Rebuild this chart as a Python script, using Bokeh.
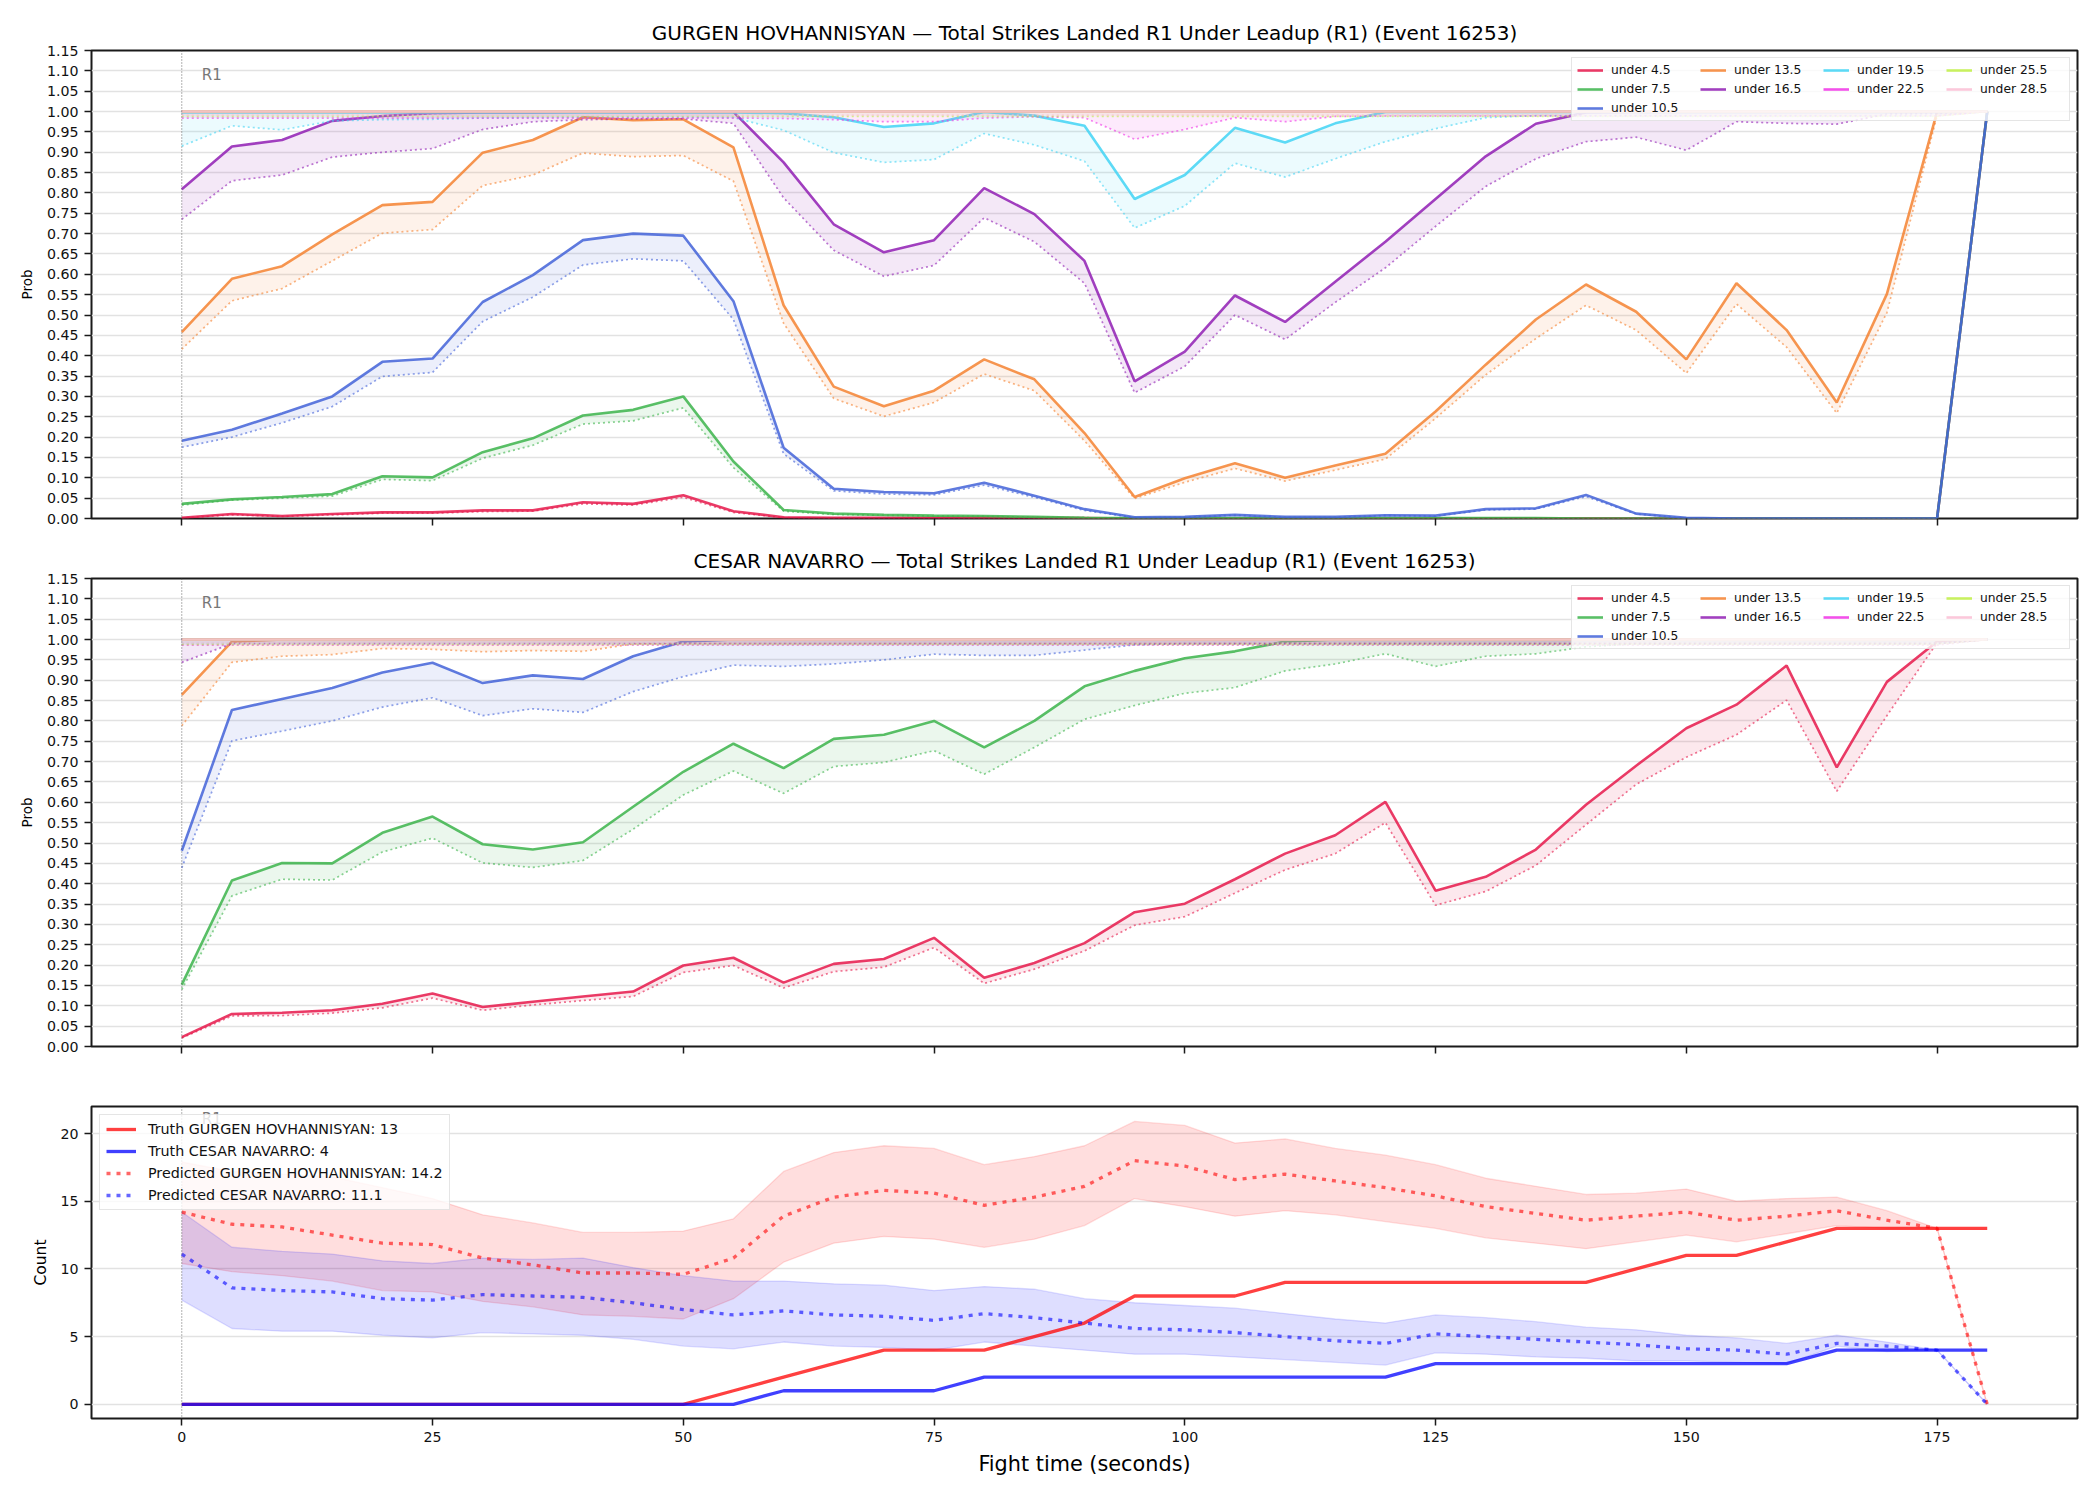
from bokeh.plotting import figure
from bokeh.models import (Range1d, FixedTicker, NumeralTickFormatter, Legend,
                          LegendItem, Span, Label, CustomLabelingPolicy)
from bokeh.layouts import column
from bokeh.embed import file_html
from bokeh.resources import INLINE

FONT = "DejaVu Sans"

# ---------------------------------------------------------------- data
times = [0, 5, 10, 15, 20, 25, 30, 35, 40, 45,
         50, 55, 60, 65, 70, 75, 80, 85, 90, 95,
         100, 105, 110, 115, 120, 125, 130, 135, 140, 145,
         150, 155, 160, 165, 170, 175, 180]

lines_labels = ["under 4.5", "under 7.5", "under 10.5", "under 13.5", "under 16.5",
                "under 19.5", "under 22.5", "under 25.5", "under 28.5"]
line_colors = ["#e6194b", "#3cb44b", "#4363d8", "#f58231", "#911eb4",
               "#42d4f4", "#f032e6", "#bfef45", "#fabed4"]

# GURGEN HOVHANNISYAN: live probability (solid) and baseline (dotted)
hov_u4_5_line = [0.002, 0.011, 0.006, 0.011, 0.015, 0.015, 0.020, 0.020, 0.040, 0.036,
                 0.057, 0.018, 0.003, 0.002, 0.002, 0.002, 0.002, 0.001, 0.001, 0.000,
                 0.000, 0.000, 0.000, 0.000, 0.000, 0.000, 0.000, 0.000, 0.000, 0.000,
                 0.000, 0.000, 0.000, 0.000, 0.000, 0.000, 1.000]
hov_u4_5_dot = [0.001, 0.009, 0.005, 0.009, 0.013, 0.013, 0.017, 0.018, 0.036, 0.033,
                0.052, 0.015, 0.002, 0.001, 0.001, 0.001, 0.001, 0.001, 0.001, 0.000,
                0.000, 0.000, 0.000, 0.000, 0.000, 0.000, 0.000, 0.000, 0.000, 0.000,
                0.000, 0.000, 0.000, 0.000, 0.000, 0.000, 1.000]
hov_u7_5_line = [0.036, 0.047, 0.053, 0.060, 0.104, 0.101, 0.163, 0.197, 0.253, 0.267,
                 0.300, 0.140, 0.021, 0.012, 0.009, 0.007, 0.006, 0.004, 0.002, 0.001,
                 0.001, 0.001, 0.001, 0.001, 0.001, 0.001, 0.001, 0.001, 0.000, 0.000,
                 0.000, 0.000, 0.000, 0.000, 0.000, 0.000, 1.000]
hov_u7_5_dot = [0.033, 0.045, 0.050, 0.055, 0.096, 0.093, 0.148, 0.180, 0.232, 0.240,
                0.272, 0.125, 0.018, 0.010, 0.008, 0.006, 0.005, 0.003, 0.002, 0.001,
                0.001, 0.001, 0.001, 0.001, 0.001, 0.001, 0.001, 0.001, 0.000, 0.000,
                0.000, 0.000, 0.000, 0.000, 0.000, 0.000, 1.000]
hov_u10_5_line = [0.191, 0.218, 0.258, 0.300, 0.385, 0.393, 0.532, 0.598, 0.684, 0.700,
                  0.695, 0.534, 0.174, 0.073, 0.065, 0.062, 0.088, 0.056, 0.023, 0.003,
                  0.004, 0.009, 0.004, 0.004, 0.008, 0.007, 0.023, 0.025, 0.058, 0.012,
                  0.002, 0.000, 0.000, 0.000, 0.000, 0.000, 1.000]
hov_u10_5_dot = [0.175, 0.200, 0.235, 0.275, 0.349, 0.359, 0.484, 0.544, 0.623, 0.638,
                 0.633, 0.489, 0.159, 0.068, 0.060, 0.058, 0.082, 0.052, 0.020, 0.002,
                 0.003, 0.008, 0.003, 0.003, 0.007, 0.006, 0.021, 0.023, 0.054, 0.011,
                 0.001, 0.000, 0.000, 0.000, 0.000, 0.000, 1.000]
hov_u13_5_line = [0.458, 0.589, 0.620, 0.698, 0.770, 0.778, 0.899, 0.930, 0.986, 0.979,
                  0.981, 0.912, 0.524, 0.324, 0.276, 0.314, 0.391, 0.342, 0.210, 0.053,
                  0.099, 0.136, 0.100, 0.130, 0.159, 0.263, 0.378, 0.489, 0.575, 0.508,
                  0.391, 0.578, 0.463, 0.285, 0.552, 0.999, 1.000]
hov_u13_5_dot = [0.416, 0.535, 0.565, 0.633, 0.701, 0.710, 0.818, 0.844, 0.898, 0.889,
                 0.892, 0.829, 0.480, 0.295, 0.251, 0.285, 0.355, 0.314, 0.191, 0.049,
                 0.089, 0.123, 0.092, 0.119, 0.146, 0.246, 0.353, 0.442, 0.524, 0.463,
                 0.357, 0.527, 0.421, 0.259, 0.506, 0.990, 1.000]
hov_u16_5_line = [0.809, 0.914, 0.930, 0.977, 0.989, 0.996, 0.998, 0.998, 0.999, 0.999,
                  0.999, 0.999, 0.875, 0.723, 0.654, 0.684, 0.812, 0.748, 0.633, 0.337,
                  0.410, 0.548, 0.483, 0.582, 0.680, 0.785, 0.890, 0.970, 0.998, 0.999,
                  0.999, 0.999, 0.999, 0.999, 0.999, 0.999, 1.000]
hov_u16_5_dot = [0.735, 0.830, 0.844, 0.888, 0.900, 0.909, 0.956, 0.975, 0.980, 0.982,
                 0.982, 0.971, 0.788, 0.659, 0.595, 0.622, 0.739, 0.680, 0.578, 0.309,
                 0.374, 0.500, 0.440, 0.531, 0.616, 0.718, 0.816, 0.884, 0.926, 0.937,
                 0.905, 0.975, 0.971, 0.969, 0.994, 0.995, 1.000]
hov_u19_5_line = [0.998, 0.998, 0.998, 0.998, 0.998, 0.998, 0.998, 0.998, 0.998, 0.998,
                  0.998, 0.998, 0.996, 0.986, 0.962, 0.971, 0.999, 0.990, 0.965, 0.785,
                  0.844, 0.960, 0.924, 0.971, 0.999, 0.999, 0.999, 0.999, 0.999, 0.999,
                  0.999, 0.999, 0.999, 0.999, 0.999, 0.999, 1.000]
hov_u19_5_dot = [0.915, 0.965, 0.955, 0.977, 0.980, 0.981, 0.984, 0.985, 0.986, 0.986,
                 0.986, 0.985, 0.954, 0.899, 0.875, 0.882, 0.946, 0.918, 0.878, 0.714,
                 0.768, 0.873, 0.839, 0.884, 0.926, 0.958, 0.985, 0.990, 0.990, 0.990,
                 0.990, 0.990, 0.990, 0.990, 0.990, 0.990, 1.000]
hov_u22_5_line = [1.000, 1.000, 1.000, 1.000, 1.000, 1.000, 1.000, 1.000, 1.000, 1.000,
                  1.000, 1.000, 1.000, 1.000, 1.000, 1.000, 1.000, 1.000, 1.000, 1.000,
                  1.000, 1.000, 1.000, 1.000, 1.000, 1.000, 1.000, 1.000, 1.000, 1.000,
                  1.000, 1.000, 1.000, 1.000, 1.000, 1.000, 1.000]
hov_u22_5_dot = [0.984, 0.984, 0.984, 0.984, 0.984, 0.984, 0.984, 0.984, 0.984, 0.984,
                 0.984, 0.984, 0.983, 0.980, 0.975, 0.975, 0.984, 0.987, 0.985, 0.932,
                 0.956, 0.985, 0.975, 0.988, 0.989, 0.989, 0.989, 0.989, 0.989, 0.989,
                 0.989, 0.989, 0.989, 0.989, 0.989, 0.989, 1.000]
hov_u25_5_line = [1.000, 1.000, 1.000, 1.000, 1.000, 1.000, 1.000, 1.000, 1.000, 1.000,
                  1.000, 1.000, 1.000, 1.000, 1.000, 1.000, 1.000, 1.000, 1.000, 1.000,
                  1.000, 1.000, 1.000, 1.000, 1.000, 1.000, 1.000, 1.000, 1.000, 1.000,
                  1.000, 1.000, 1.000, 1.000, 1.000, 1.000, 1.000]
hov_u25_5_dot = [0.988, 0.988, 0.988, 0.988, 0.988, 0.988, 0.988, 0.988, 0.988, 0.988,
                 0.988, 0.988, 0.988, 0.988, 0.988, 0.988, 0.988, 0.988, 0.988, 0.988,
                 0.988, 0.988, 0.988, 0.988, 0.988, 0.988, 0.988, 0.988, 0.988, 0.988,
                 0.988, 0.988, 0.988, 0.988, 0.988, 0.988, 1.000]
hov_u28_5_line = [1.000, 1.000, 1.000, 1.000, 1.000, 1.000, 1.000, 1.000, 1.000, 1.000,
                  1.000, 1.000, 1.000, 1.000, 1.000, 1.000, 1.000, 1.000, 1.000, 1.000,
                  1.000, 1.000, 1.000, 1.000, 1.000, 1.000, 1.000, 1.000, 1.000, 1.000,
                  1.000, 1.000, 1.000, 1.000, 1.000, 1.000, 1.000]
hov_u28_5_dot = [0.991, 0.991, 0.991, 0.991, 0.991, 0.991, 0.991, 0.991, 0.991, 0.991,
                 0.991, 0.991, 0.991, 0.991, 0.991, 0.991, 0.991, 0.991, 0.991, 0.991,
                 0.991, 0.991, 0.991, 0.991, 0.991, 0.991, 0.991, 0.991, 0.991, 0.991,
                 0.991, 0.991, 0.991, 0.991, 0.991, 0.991, 1.000]

# CESAR NAVARRO: live probability (solid) and baseline (dotted)
nav_u4_5_line = [0.023, 0.080, 0.083, 0.089, 0.105, 0.130, 0.097, 0.110, 0.123, 0.135,
                 0.199, 0.218, 0.157, 0.203, 0.215, 0.267, 0.169, 0.205, 0.254, 0.330,
                 0.351, 0.411, 0.474, 0.519, 0.601, 0.383, 0.417, 0.484, 0.594, 0.690,
                 0.782, 0.840, 0.936, 0.686, 0.896, 0.995, 1.000]
nav_u4_5_dot = [0.021, 0.075, 0.076, 0.082, 0.095, 0.119, 0.089, 0.102, 0.113, 0.123,
                0.182, 0.199, 0.144, 0.184, 0.195, 0.243, 0.155, 0.190, 0.235, 0.298,
                0.319, 0.377, 0.434, 0.474, 0.550, 0.347, 0.381, 0.445, 0.545, 0.644,
                0.711, 0.766, 0.851, 0.627, 0.813, 0.992, 1.000]
nav_u7_5_line = [0.152, 0.408, 0.451, 0.450, 0.525, 0.565, 0.497, 0.484, 0.502, 0.589,
                 0.675, 0.744, 0.684, 0.756, 0.766, 0.800, 0.735, 0.800, 0.885, 0.923,
                 0.954, 0.971, 0.995, 1.000, 1.000, 1.000, 1.000, 1.000, 1.000, 1.000,
                 1.000, 1.000, 1.000, 1.000, 1.000, 1.000, 1.000]
nav_u7_5_dot = [0.140, 0.370, 0.411, 0.409, 0.478, 0.512, 0.451, 0.440, 0.457, 0.534,
                0.618, 0.677, 0.622, 0.688, 0.698, 0.727, 0.669, 0.735, 0.804, 0.838,
                0.868, 0.882, 0.923, 0.940, 0.965, 0.934, 0.959, 0.965, 0.982, 0.990,
                0.990, 0.990, 0.990, 0.990, 0.990, 0.990, 1.000]
nav_u10_5_line = [0.481, 0.827, 0.854, 0.881, 0.919, 0.943, 0.893, 0.912, 0.903, 0.959,
                  0.995, 1.000, 1.000, 1.000, 1.000, 1.000, 1.000, 1.000, 1.000, 1.000,
                  1.000, 1.000, 1.000, 1.000, 1.000, 1.000, 1.000, 1.000, 1.000, 1.000,
                  1.000, 1.000, 1.000, 1.000, 1.000, 1.000, 1.000]
nav_u10_5_dot = [0.439, 0.751, 0.775, 0.800, 0.834, 0.857, 0.813, 0.830, 0.821, 0.872,
                 0.909, 0.937, 0.934, 0.940, 0.950, 0.964, 0.961, 0.961, 0.974, 0.987,
                 0.990, 0.990, 0.990, 0.990, 0.990, 0.990, 0.990, 0.990, 0.990, 0.990,
                 0.990, 0.990, 0.990, 0.990, 0.990, 0.990, 1.000]
nav_u13_5_line = [0.864, 0.995, 1.000, 1.000, 1.000, 1.000, 1.000, 1.000, 1.000, 1.000,
                  1.000, 1.000, 1.000, 1.000, 1.000, 1.000, 1.000, 1.000, 1.000, 1.000,
                  1.000, 1.000, 1.000, 1.000, 1.000, 1.000, 1.000, 1.000, 1.000, 1.000,
                  1.000, 1.000, 1.000, 1.000, 1.000, 1.000, 1.000]
nav_u13_5_dot = [0.788, 0.944, 0.959, 0.963, 0.978, 0.976, 0.970, 0.973, 0.971, 0.989,
                 0.990, 0.990, 0.990, 0.990, 0.990, 0.990, 0.990, 0.990, 0.990, 0.990,
                 0.990, 0.990, 0.990, 0.990, 0.990, 0.990, 0.990, 0.990, 0.990, 0.990,
                 0.990, 0.990, 0.990, 0.990, 0.990, 0.990, 1.000]
nav_u16_5_line = [1.000, 1.000, 1.000, 1.000, 1.000, 1.000, 1.000, 1.000, 1.000, 1.000,
                  1.000, 1.000, 1.000, 1.000, 1.000, 1.000, 1.000, 1.000, 1.000, 1.000,
                  1.000, 1.000, 1.000, 1.000, 1.000, 1.000, 1.000, 1.000, 1.000, 1.000,
                  1.000, 1.000, 1.000, 1.000, 1.000, 1.000, 1.000]
nav_u16_5_dot = [0.944, 0.990, 0.990, 0.990, 0.990, 0.990, 0.990, 0.990, 0.990, 0.990,
                 0.990, 0.990, 0.990, 0.990, 0.990, 0.990, 0.990, 0.990, 0.990, 0.990,
                 0.990, 0.990, 0.990, 0.990, 0.990, 0.990, 0.990, 0.990, 0.990, 0.990,
                 0.990, 0.990, 0.990, 0.990, 0.990, 0.990, 1.000]
nav_u19_5_line = list(nav_u16_5_line)
nav_u19_5_dot = [0.990, 0.990, 0.990, 0.990, 0.990, 0.990, 0.990, 0.990, 0.990, 0.990,
                 0.990, 0.990, 0.990, 0.990, 0.990, 0.990, 0.990, 0.990, 0.990, 0.990,
                 0.990, 0.990, 0.990, 0.990, 0.990, 0.990, 0.990, 0.990, 0.990, 0.990,
                 0.990, 0.990, 0.990, 0.990, 0.990, 0.990, 1.000]
nav_u22_5_line = list(nav_u16_5_line)
nav_u22_5_dot = [0.986, 0.986, 0.986, 0.986, 0.986, 0.986, 0.986, 0.986, 0.986, 0.986,
                 0.986, 0.986, 0.986, 0.986, 0.986, 0.986, 0.986, 0.986, 0.986, 0.986,
                 0.986, 0.986, 0.986, 0.986, 0.986, 0.986, 0.986, 0.986, 0.986, 0.986,
                 0.986, 0.986, 0.986, 0.986, 0.986, 0.986, 1.000]
nav_u25_5_line = list(nav_u16_5_line)
nav_u25_5_dot = list(hov_u25_5_dot)
nav_u28_5_line = list(nav_u16_5_line)
nav_u28_5_dot = list(hov_u28_5_dot)

# Cumulative strike counts
truth_hov = [0, 0, 0, 0, 0, 0, 0, 0, 0, 0,
             0, 1, 2, 3, 4, 4, 4, 5, 6, 8,
             8, 8, 9, 9, 9, 9, 9, 9, 9, 10,
             11, 11, 12, 13, 13, 13, 13]
truth_nav = [0, 0, 0, 0, 0, 0, 0, 0, 0, 0,
             0, 0, 1, 1, 1, 1, 2, 2, 2, 2,
             2, 2, 2, 2, 2, 3, 3, 3, 3, 3,
             3, 3, 3, 4, 4, 4, 4]
pred_hov = [14.2, 13.3, 13.1, 12.5, 11.9, 11.8, 10.8, 10.3, 9.7, 9.7,
            9.6, 10.8, 13.9, 15.3, 15.8, 15.6, 14.7, 15.3, 16.1, 18.0,
            17.6, 16.6, 17.0, 16.5, 16.0, 15.4, 14.6, 14.1, 13.6, 13.9,
            14.2, 13.6, 13.9, 14.3, 13.6, 13.0, 0.0]
pred_hov_hi = [17.9, 17.2, 17.0, 16.8, 16.0, 15.2, 14.0, 13.4, 12.7, 12.7,
               12.8, 13.7, 17.2, 18.6, 19.1, 18.9, 17.7, 18.3, 19.1, 20.9,
               20.6, 19.3, 19.6, 18.9, 18.4, 17.7, 16.7, 16.1, 15.5, 15.6,
               15.9, 15.0, 15.2, 15.3, 14.3, 13.0, 0.0]
pred_hov_lo = [10.4, 9.8, 9.5, 9.1, 8.4, 8.3, 7.6, 7.2, 6.6, 6.5,
               6.3, 7.8, 10.5, 11.9, 12.4, 12.2, 11.6, 12.2, 13.2, 15.2,
               14.6, 13.9, 14.3, 14.0, 13.5, 13.0, 12.3, 11.9, 11.5, 12.0,
               12.5, 12.0, 12.6, 13.2, 13.0, 13.0, 0.0]
pred_nav = [11.1, 8.6, 8.4, 8.3, 7.8, 7.7, 8.1, 8.0, 7.9, 7.5,
            7.0, 6.6, 6.9, 6.6, 6.5, 6.2, 6.7, 6.4, 6.0, 5.6,
            5.5, 5.3, 5.0, 4.7, 4.5, 5.2, 5.0, 4.8, 4.6, 4.4,
            4.1, 4.0, 3.7, 4.5, 4.3, 4.0, 0.0]
pred_nav_hi = [14.2, 11.6, 11.3, 11.1, 10.6, 10.4, 10.8, 10.7, 10.8, 10.1,
               9.5, 9.1, 9.1, 8.9, 8.8, 8.4, 8.7, 8.5, 7.8, 7.5,
               7.3, 7.1, 6.7, 6.3, 6.0, 6.6, 6.4, 6.1, 5.7, 5.5,
               5.1, 4.9, 4.5, 5.1, 4.6, 4.0, 0.0]
pred_nav_lo = [7.7, 5.6, 5.4, 5.4, 5.1, 4.9, 5.3, 5.2, 5.1, 4.8,
               4.3, 4.1, 4.6, 4.3, 4.2, 4.0, 4.6, 4.3, 4.0, 3.7,
               3.7, 3.5, 3.3, 3.1, 2.9, 3.8, 3.7, 3.5, 3.4, 3.2,
               3.2, 3.1, 3.0, 4.3, 3.9, 4.0, 0.0]

x_ticks = [0, 25, 50, 75, 100, 125, 150, 175]
prob_ticks = [0.0, 0.05, 0.1, 0.15, 0.2, 0.25, 0.3, 0.35, 0.4, 0.45, 0.5, 0.55,
              0.6, 0.65, 0.7, 0.75, 0.8, 0.85, 0.9, 0.95, 1.0, 1.05, 1.1, 1.15]
count_ticks = [0, 5, 10, 15, 20]

TITLE_SUFFIX = " \u2014 Total Strikes Landed R1 Under Leadup (R1) (Event 16253)"


# ---------------------------------------------------------------- helpers
def make_figure(height, top, bottom, y_range, title=None):
    kw = dict(width=2100, height=height, x_range=Range1d(-9, 189), y_range=y_range,
              min_border_left=91, min_border_right=23,
              min_border_top=top, min_border_bottom=bottom,
              output_backend="svg", toolbar_location=None)
    if title is not None:
        kw["title"] = title
    p = figure(**kw)
    p.background_fill_color = "white"
    p.border_fill_color = "white"
    p.outline_line_color = "#1a1a1a"
    p.outline_line_width = 2
    p.outline_line_alpha = 1.0
    if title is not None:
        p.title.text_font = FONT
        p.title.text_font_size = "20px"
        p.title.text_font_style = "normal"
        p.title.text_color = "#000000"
        p.title.align = "center"
        p.title.standoff = 12
    for ax in list(p.xaxis) + list(p.yaxis):
        ax.axis_line_color = None
        ax.major_tick_line_color = "#1a1a1a"
        ax.major_tick_line_width = 1.5
        ax.major_tick_out = 7
        ax.major_tick_in = 0
        ax.minor_tick_line_color = None
        ax.major_label_text_font = FONT
        ax.major_label_text_font_size = "14.2px"
        ax.major_label_text_color = "#111111"
        ax.major_label_standoff = 6
        ax.axis_label_text_font = FONT
        ax.axis_label_text_font_style = "normal"
        ax.axis_label_text_color = "#000000"
    p.xaxis.ticker = FixedTicker(ticks=x_ticks)
    p.xgrid.visible = False
    p.ygrid.grid_line_color = "#e2e2e2"
    p.ygrid.grid_line_width = 1.3
    p.add_layout(Span(location=0, dimension="height", line_color="#555555",
                      line_width=1, line_dash="1 2", line_alpha=0.9))
    return p


def prob_panel(title, series, height, top, bottom):
    p = make_figure(height, top, bottom, Range1d(0, 1.15), title)
    p.yaxis.ticker = FixedTicker(ticks=prob_ticks)
    p.yaxis.formatter = NumeralTickFormatter(format="0.00")
    p.yaxis.axis_label = "Prob"
    p.yaxis.axis_label_text_font_size = "13.5px"
    p.yaxis.axis_label_standoff = 9
    # shared time axis: tick marks only, the labels live on the bottom panel
    p.xaxis.major_label_policy = CustomLabelingPolicy(code="return []")
    p.xaxis.major_label_text_font_size = "1px"
    p.xaxis.major_label_standoff = 0

    solid = []
    for color, (line_vals, dot_vals) in zip(line_colors, series):
        p.varea(x=times, y1=dot_vals, y2=line_vals, fill_color=color, fill_alpha=0.1)
        r = p.line(times, line_vals, line_color=color, line_width=2.6, line_alpha=0.85)
        p.line(times, dot_vals, line_color=color, line_width=1.7, line_alpha=0.6,
               line_dash="2 3")
        solid.append(r)

    p.add_layout(Label(x=2, y=1.09, text="R1", text_font=FONT, text_font_size="15px",
                       text_color="#777777", text_baseline="middle", text_align="left"))

    spacer = p.line([0, 0], [0, 0], line_alpha=0)
    order = [0, 1, 2, 3, 4, None, 5, 6, None, 7, 8]
    items = []
    for i in order:
        if i is None:
            items.append(LegendItem(label=" ", renderers=[spacer]))
        else:
            items.append(LegendItem(label=lines_labels[i], renderers=[solid[i]]))
    legend = Legend(items=items, location="top_right", orientation="vertical", nrows=3,
                    margin=7, padding=5, spacing=5, glyph_width=26, glyph_height=14,
                    label_height=14, label_width=84, label_standoff=8,
                    label_text_font=FONT, label_text_font_size="12.3px",
                    label_text_color="#111111",
                    border_line_color="#cccccc", border_line_width=1.5,
                    background_fill_color="white", background_fill_alpha=0.8)
    p.add_layout(legend)
    return p


# ---------------------------------------------------------------- panels
hov_series = [(hov_u4_5_line, hov_u4_5_dot), (hov_u7_5_line, hov_u7_5_dot),
              (hov_u10_5_line, hov_u10_5_dot), (hov_u13_5_line, hov_u13_5_dot),
              (hov_u16_5_line, hov_u16_5_dot), (hov_u19_5_line, hov_u19_5_dot),
              (hov_u22_5_line, hov_u22_5_dot), (hov_u25_5_line, hov_u25_5_dot),
              (hov_u28_5_line, hov_u28_5_dot)]
nav_series = [(nav_u4_5_line, nav_u4_5_dot), (nav_u7_5_line, nav_u7_5_dot),
              (nav_u10_5_line, nav_u10_5_dot), (nav_u13_5_line, nav_u13_5_dot),
              (nav_u16_5_line, nav_u16_5_dot), (nav_u19_5_line, nav_u19_5_dot),
              (nav_u22_5_line, nav_u22_5_dot), (nav_u25_5_line, nav_u25_5_dot),
              (nav_u28_5_line, nav_u28_5_dot)]

p1 = prob_panel("GURGEN HOVHANNISYAN" + TITLE_SUFFIX, hov_series, 540, 50, 22)
p2 = prob_panel("CESAR NAVARRO" + TITLE_SUFFIX, nav_series, 528, 38, 22)

# count panel
p3 = make_figure(432, 38, 82, Range1d(-1.05, 22.0))
p3.yaxis.ticker = FixedTicker(ticks=count_ticks)
p3.yaxis.axis_label = "Count"
p3.yaxis.axis_label_text_font_size = "15.5px"
p3.yaxis.axis_label_standoff = 7
p3.xaxis.axis_label = "Fight time (seconds)"
p3.xaxis.axis_label_text_font_size = "20.8px"
p3.xaxis.axis_label_standoff = 7

for lo, hi, c in ((pred_hov_lo, pred_hov_hi, "#ff0000"), (pred_nav_lo, pred_nav_hi, "#0000ff")):
    p3.varea(x=times, y1=lo, y2=hi, fill_color=c, fill_alpha=0.13)
    p3.line(times, hi, line_color=c, line_alpha=0.13, line_width=1.3)
    p3.line(times, lo, line_color=c, line_alpha=0.13, line_width=1.3)

r_th = p3.line(times, truth_hov, line_color="#ff0000", line_alpha=0.75, line_width=3.3)
r_tn = p3.line(times, truth_nav, line_color="#0000ff", line_alpha=0.75, line_width=3.3)
r_ph = p3.line(times, pred_hov, line_color="#ff0000", line_alpha=0.6, line_width=3.3,
               line_dash="4 6")
r_pn = p3.line(times, pred_nav, line_color="#0000ff", line_alpha=0.6, line_width=3.3,
               line_dash="4 6")

p3.add_layout(Label(x=2, y=21.1, text="R1", text_font=FONT, text_font_size="15px",
                    text_color="#777777", text_baseline="middle", text_align="left"))

legend3 = Legend(items=[
    LegendItem(label=f"Truth GURGEN HOVHANNISYAN: {truth_hov[-1]}", renderers=[r_th]),
    LegendItem(label=f"Truth CESAR NAVARRO: {truth_nav[-1]}", renderers=[r_tn]),
    LegendItem(label=f"Predicted GURGEN HOVHANNISYAN: {pred_hov[0]}", renderers=[r_ph]),
    LegendItem(label=f"Predicted CESAR NAVARRO: {pred_nav[0]}", renderers=[r_pn]),
], location="top_left", margin=8, padding=6, spacing=6, glyph_width=30, glyph_height=16,
    label_height=16, label_standoff=12, label_text_font=FONT, label_text_font_size="14.3px",
    label_text_color="#111111", border_line_color="#cccccc", border_line_width=1.5,
    background_fill_color="white", background_fill_alpha=0.8)
p3.add_layout(legend3)

layout = column(p1, p2, p3)
open("out.html", "w").write(file_html(layout, INLINE))
